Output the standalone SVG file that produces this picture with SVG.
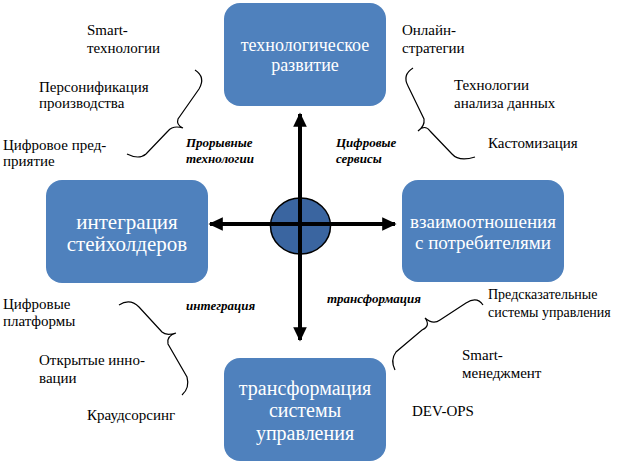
<svg xmlns="http://www.w3.org/2000/svg" width="617" height="463" viewBox="0 0 617 463">
<style>
.box{fill:#4F81BD;}
.bt{fill:#fff;text-anchor:middle;}
.lb{fill:#000;font-size:15px;}
.sm{font-size:14px;}
.it{fill:#000;font-size:13px;font-style:italic;font-weight:bold;}
.br{fill:none;stroke:#000;stroke-width:1.2;}
.ax{stroke:#000;stroke-width:4;fill:none;}
</style>
<defs>
<marker id="ah" markerWidth="4" markerHeight="4" refX="3.2" refY="2" orient="auto" markerUnits="strokeWidth">
<path d="M0,0.3 L3.6,2 L0,3.7 Z" fill="#000"/>
</marker>
</defs>
<rect width="617" height="463" fill="#fff"/>
<g font-family="Liberation Serif, DejaVu Serif, serif">
<g id="node-tech">
<rect class="box" x="224" y="3" width="162" height="103" rx="16"/>
<text class="bt" font-size="18" x="305" y="51">технологическое</text>
<text class="bt" font-size="18" x="305" y="71">развитие</text>
</g>
<g id="node-integration">
<rect class="box" x="46" y="180" width="162" height="103" rx="16"/>
<text class="bt" font-size="21" x="127" y="229">интеграция</text>
<text class="bt" font-size="21" x="127" y="251">стейхолдеров</text>
</g>
<g id="node-relations">
<rect class="box" x="402" y="180" width="162" height="102" rx="16"/>
<text class="bt" font-size="19" x="483" y="228">взаимоотношения</text>
<text class="bt" font-size="19" x="483" y="249">с потребителями</text>
</g>
<g id="node-transform">
<rect class="box" x="224" y="358" width="162" height="103" rx="16"/>
<text class="bt" font-size="20" x="305" y="395">трансформация</text>
<text class="bt" font-size="20" x="305" y="417">системы</text>
<text class="bt" font-size="20" x="305" y="440">управления</text>
</g>
<g id="center">
<ellipse cx="300.5" cy="226" rx="30" ry="28" fill="#3A65A0" stroke="#000" stroke-width="1.5"/>
</g>
<g id="connectors">
<line class="ax" x1="300" y1="226" x2="300" y2="114" marker-end="url(#ah)"/>
<line class="ax" x1="300" y1="226" x2="300" y2="340" marker-end="url(#ah)"/>
<line class="ax" x1="300" y1="224" x2="210" y2="224" marker-end="url(#ah)"/>
<line class="ax" x1="300" y1="224" x2="395" y2="224" marker-end="url(#ah)"/>
</g>
<g id="braces">
<path class="br" d="M195,70 Q206,77 199,89 L178,119 Q176,125 183,128 M183,128 Q173,125 168,131 L146,154 Q139,160 127,154"/>
<path class="br" d="M413,68 Q402,75 408,86 L424,119 Q425,126 418,131 M418,131 Q425,124 430,131 L452,154 Q459,162 475,157"/>
<path class="br" d="M119,305 Q130,298 139,307 L162,332 Q166,336 176,333 M176,333 Q166,336 168,344 L187,377 Q190,388 182,395"/>
<path class="br" d="M483,305 Q477,296 466,303 L440,320 Q433,325 425,318 M425,318 Q431,326 422,330 L396,352 Q390,360 395,370"/>
</g>
<g id="labels">
<text class="lb" x="87" y="35">Smart-</text>
<text class="lb" x="87" y="53">технологии</text>
<text class="lb" x="39" y="92">Персонификация</text>
<text class="lb" x="39" y="108">производства</text>
<text class="lb" x="3" y="150">Цифровое пред-</text>
<text class="lb" x="3" y="166">приятие</text>
<text class="lb" x="402" y="35">Онлайн-</text>
<text class="lb" x="402" y="53">стратегии</text>
<text class="lb" x="454" y="90">Технологии</text>
<text class="lb" x="454" y="108">анализа данных</text>
<text class="lb" x="488" y="148">Кастомизация</text>
<text class="lb" x="3" y="309">Цифровые</text>
<text class="lb" x="3" y="326">платформы</text>
<text class="lb" x="39" y="365">Открытые инно-</text>
<text class="lb" x="39" y="383">вации</text>
<text class="lb" x="87" y="420">Краудсорсинг</text>
<text class="lb sm" x="488" y="299">Предсказательные</text>
<text class="lb sm" x="488" y="317">системы управления</text>
<text class="lb" x="462" y="360">Smart-</text>
<text class="lb" x="462" y="378">менеджмент</text>
<text class="lb" x="412" y="416">DEV-OPS</text>
<text class="it" x="186" y="147">Прорывные</text>
<text class="it" x="186" y="163">технологии</text>
<text class="it" x="336" y="147">Цифровые</text>
<text class="it" x="336" y="163">сервисы</text>
<text class="it" x="186" y="310">интеграция</text>
<text class="it" x="327" y="303">трансформация</text>
</g>
</g>
</svg>
